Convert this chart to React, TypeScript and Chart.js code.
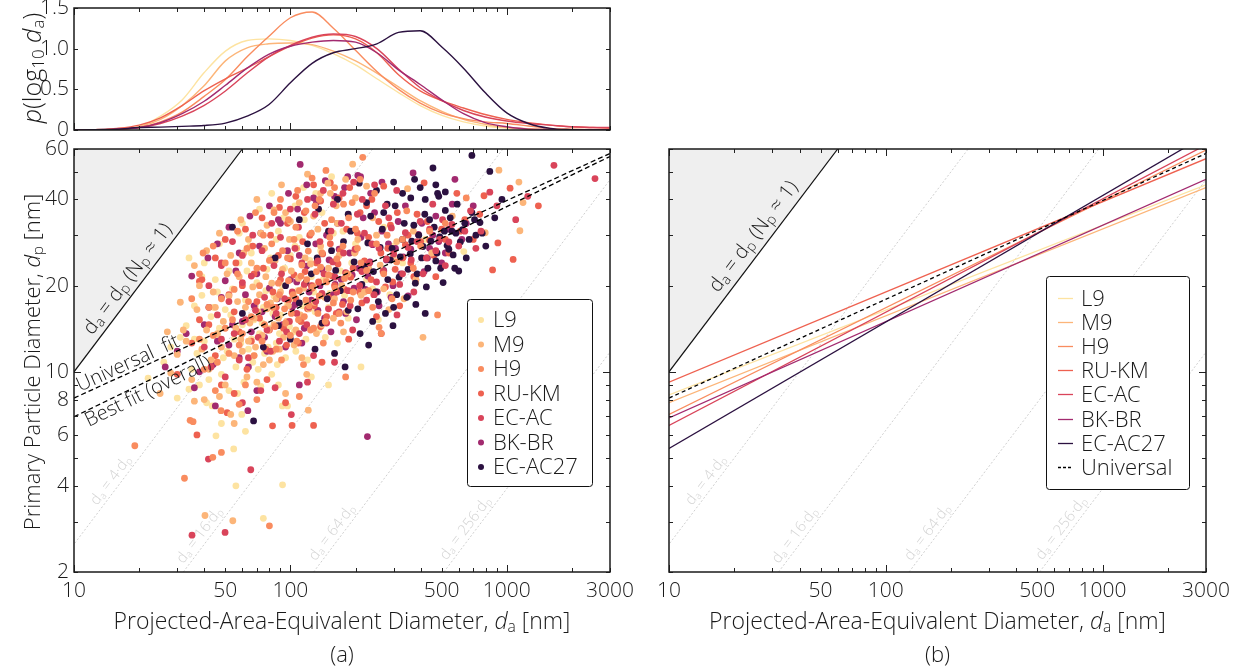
import React, { useEffect, useRef } from 'react';
import { Chart, registerables } from 'chart.js';
Chart.register(...registerables);

const FONT = '"Open Sans", Lato, "DejaVu Sans", sans-serif';
const W = '300';
const TXT = '#1a1a1a';

const SERIES = ['L9', 'M9', 'H9', 'RU-KM', 'EC-AC', 'BK-BR', 'EC-AC27'];
const COLORS = ['#fde3a1', '#fcb579', '#f98c5f', '#ee6150', '#d9445a', '#a22a6f', '#2b1140'];

// ---- density of log10(da) (top panel) ----
const PDF_DA = [10, 12.6, 15.8, 20, 25.1, 31.6, 39.8, 50.1, 63.1, 79.4, 100, 126, 158, 200, 251, 316, 398, 501, 631, 794, 1000, 1259, 1585, 1995, 2512, 3000];
const PDF_L9 = [0, 0.002, 0.01, 0.04, 0.17, 0.37, 0.7, 0.97, 1.1, 1.12, 1.1, 1.04, 0.94, 0.8, 0.63, 0.46, 0.3, 0.18, 0.1, 0.05, 0.025, 0.01, 0.005, 0, 0, 0];
const PDF_M9 = [0, 0.003, 0.01, 0.04, 0.13, 0.3, 0.54, 0.85, 1.01, 1.06, 1.07, 1.05, 0.97, 0.85, 0.7, 0.53, 0.36, 0.23, 0.13, 0.07, 0.03, 0.015, 0.005, 0, 0, 0];
const PDF_H9 = [0, 0.002, 0.008, 0.03, 0.1, 0.22, 0.41, 0.62, 0.9, 1.15, 1.38, 1.45, 1.25, 0.98, 0.72, 0.5, 0.33, 0.21, 0.14, 0.1, 0.08, 0.05, 0.02, 0.01, 0.005, 0];
const PDF_RUKM = [0, 0.005, 0.02, 0.06, 0.15, 0.3, 0.48, 0.63, 0.76, 0.9, 1.03, 1.13, 1.17, 1.12, 0.95, 0.68, 0.48, 0.36, 0.27, 0.19, 0.13, 0.09, 0.06, 0.04, 0.03, 0.02];
const PDF_ECAC = [0, 0.003, 0.01, 0.03, 0.08, 0.17, 0.3, 0.48, 0.7, 0.9, 1.04, 1.14, 1.18, 1.15, 1.0, 0.75, 0.52, 0.36, 0.24, 0.16, 0.11, 0.08, 0.06, 0.04, 0.03, 0.03];
const PDF_BKBR = [0, 0.003, 0.01, 0.03, 0.09, 0.2, 0.35, 0.55, 0.76, 0.93, 1.03, 1.08, 1.1, 1.08, 0.95, 0.74, 0.56, 0.37, 0.2, 0.09, 0.04, 0.01, 0.005, 0, 0, 0];
const PDF_ECAC27 = [0, 0.005, 0.01, 0.03, 0.035, 0.045, 0.055, 0.085, 0.17, 0.31, 0.58, 0.82, 0.95, 1.0, 1.06, 1.2, 1.22, 1.02, 0.76, 0.46, 0.21, 0.08, 0.02, 0.005, 0, 0];
const PDFS = [PDF_L9, PDF_M9, PDF_H9, PDF_RUKM, PDF_ECAC, PDF_BKBR, PDF_ECAC27];

// ---- scatter points [da, dp] ----
const PTS_L9 = [[22,9.5],[28,12.2],[30,8.1],[33,14.5],[35,10.2],[36,17.0],[38,9.0],[40,12.8],[41,7.8],[43,15.6],[43.5,7.6],[44,11.0],[45,21.0],[45.3,5.98],[46,13.4],[48,9.8],[50,16.5],[51,11.8],[52,8.6],[54,19.5],[54.7,5.38],[55,13.0],[56,4.0],[56,10.4],[58,24.0],[59.6,7.1],[60,14.6],[61,9.2],[62,17.8],[64,12.0],[65,27.5],[67,10.8],[68,15.2],[70,20.5],[72,13.6],[73,8.9],[75,3.08],[75,16.8],[76,11.6],[78,22.8],[80,14.2],[82,9.8],[84,18.4],[86,12.6],[88,31.0],[90,15.8],[91.8,7.6],[92,4.03],[92,20.0],[95,11.2],[97,7.6],[97,17.2],[100,25.5],[104,13.8],[108,19.2],[112,15.0],[116,34.0],[120,11.0],[125,21.5],[130,16.2],[138,26.5],[145,13.2],[152,18.8],[160,40.0],[170,22.5],[185,15.4],[200,28.0],[212,10.4],[240,19.5],[270,32.0],[288,18.6],[330,24.0],[420,29.0],[633,26.3],
  [26,10.8],[31,13.2],[34,8.7],[37,11.6],[39,18.5],[42,9.4],[47,14.2],[49,11.2],[53,15.8],[57,8.4],[59,12.6],[63,22.5],[66,13.0],[69,17.0],[71,10.2],[74,14.8],[77,19.2],[79,12.2],[81,25.0],[83,16.0],[87,10.6],[89,13.6],[94,23.0],[99,14.4],[102,18.0],[106,11.8],[110,29.5],[114,17.0],[118,13.0],[123,24.5],[128,19.0],[135,14.0],[142,21.0],[150,16.8],[158,30.5],[165,12.6],[178,18.5],[192,24.0],[225,21.0],[255,15.2],[300,27.5],[380,20.5],[150,9.0],[62,6.2],[48,6.6],
  [40,24.0],[47,28.0],[52,22.5],[60,33.0],[66,26.0],[72,37.0],[82,42.0],[86,29.0],[93,34.5],[105,27.5],[115,44.0],[131,42.0],[140,36.0],[155,48.0],[175,31.0],[105,38.0],[46,19.0],[39,21.5],[34,25.0],[58,30.5],[68,11.4],[88,9.0],[125,9.6],[36,13.0],[44,16.8]];
const PTS_M9 = [[25,8.4],[30,11.5],[32,14.0],[35,9.4],[37,16.5],[39,12.0],[40.3,3.15],[42,10.2],[44,19.0],[46,13.6],[47,8.2],[49,15.0],[51,22.0],[53,7.1],[54.2,3.02],[55,11.4],[57,17.6],[59,13.0],[61,26.0],[63,9.6],[65,14.8],[67,19.8],[69,12.2],[71,16.2],[73,30.5],[75,10.6],[77,21.5],[79,14.0],[81,17.4],[83,11.8],[85,24.5],[88,15.4],[90,19.0],[93,13.2],[95,36.0],[98,17.0],[101,22.5],[104,12.4],[107,27.0],[111,15.8],[115,19.6],[119,9.8],[121,7.35],[124,23.8],[129,17.5],[134,31.5],[140,14.6],[146,20.8],[153,42.0],[160,18.0],[168,25.5],[176,13.8],[185,22.0],[194,53.1],[205,29.0],[220,19.0],[240,34.5],[260,23.6],[285,16.5],[310,28.5],[348,43.6],[380,21.0],[410,13.2],[795,30.6],[920,50.6],[1138,46.0],[1189,39.0],[1150,31.1],
  [28,9.9],[33,12.8],[36,7.9],[38,20.0],[41,14.0],[43,11.0],[45,16.8],[48,12.2],[50,9.0],[52,18.4],[56,14.2],[58,21.5],[60,11.8],[62,16.8],[64,12.8],[66,24.0],[68,15.4],[70,9.2],[72,18.6],[74,13.4],[76,27.0],[78,16.6],[80,11.0],[82,20.4],[84,14.6],[86,18.0],[89,12.0],[92,22.8],[96,15.0],[99,29.0],[102,18.8],[106,14.0],[109,21.2],[113,11.2],[117,25.0],[122,16.6],[127,20.0],[132,13.6],[138,27.5],[144,18.2],[150,23.0],[158,15.4],[165,33.0],[173,20.0],[182,16.2],[198,26.0],[212,18.5],[230,23.0],[250,30.0],[270,19.5],[300,25.5],[335,18.0],[370,31.0],[450,26.0],[560,35.0],
  [36,23.5],[41,26.5],[47,30.5],[53,25.5],[59,34.0],[64,29.0],[70,40.0],[78,32.5],[84,36.8],[91,45.0],[100,33.5],[110,39.0],[120,49.0],[128,35.0],[138,42.0],[149,45.6],[163,38.0],[180,47.0],[200,40.5],[225,44.5],[31,17.5],[27,13.8],[40,8.0],[55,6.6],[95,8.4]];
const PTS_H9 = [[19.1,5.52],[32.4,4.25],[34.4,6.77],[35.5,6.7],[43.8,5.03],[48,5.23],[47.8,7.32],[80,2.9],[38,13.0],[42,16.8],[46,10.8],[50,14.2],[55,19.4],[58,12.4],[62,9.0],[66,15.6],[70,23.0],[74,12.8],[78,17.2],[82,28.0],[85,14.4],[88,20.4],[91,11.0],[94,16.6],[97,25.0],[100,13.4],[103,18.6],[106,32.0],[109,15.2],[112,21.6],[115,10.6],[118,17.8],[121,26.4],[124,14.0],[127,19.8],[130,38.0],[134,16.0],[138,23.2],[142,12.6],[147,20.6],[152,29.5],[158,17.4],[164,24.8],[171,14.8],[178,21.2],[186,34.5],[195,19.0],[204,27.0],[216,56.1],[225,22.6],[240,16.8],[257,14.3],[263,13.6],[280,30.0],[310,24.2],[345,36.5],[400,27.5],[479,15.8],[520,33.0],[650,40.5],
  [40,10.2],[44,13.4],[48,18.0],[52,11.6],[54,15.2],[57,22.0],[60,13.6],[64,17.6],[68,11.4],[72,20.0],[76,14.6],[80,24.5],[83,16.8],[86,12.0],[89,18.6],[92,26.5],[95,14.8],[98,20.8],[101,16.0],[104,29.0],[107,12.8],[110,19.2],[113,23.6],[116,15.6],[119,21.0],[122,17.0],[125,30.5],[128,14.2],[132,22.4],[136,18.4],[140,26.0],[145,15.0],[150,21.8],[155,34.0],[161,19.6],[168,16.0],[175,27.5],[182,22.0],[190,17.8],[200,31.5],[212,24.0],[230,19.2],[250,28.0],[270,22.0],[295,18.0],[330,29.0],[370,23.0],[440,31.0],[180,9.6],[110,8.2],
  [38,22.0],[44,27.5],[50,24.0],[57,31.0],[63,27.0],[69,36.0],[75,30.0],[84,36.0],[90,40.0],[98,34.0],[108,43.0],[118,36.5],[126,47.5],[136,40.0],[146,50.5],[160,44.0],[176,38.5],[193,39.0],[210,47.0],[245,42.0],[35,18.0],[45,8.6],[58,7.7],[70,8.0],[39.5,26.0]];
const PTS_RUKM = [[30,9.8],[37,6.02],[38,15.2],[45,11.4],[51,7.2],[52,18.6],[58,13.8],[63,10.2],[68,22.0],[72,15.4],[77,12.0],[82.7,6.48],[83,19.0],[88,25.5],[93,14.2],[98,17.8],[101.8,6.5],[104,21.8],[109,12.6],[114,28.5],[120,16.6],[126,19.6],[128,6.5],[132,24.0],[138,14.4],[144,33.0],[150,18.2],[156,21.6],[163,16.0],[170,26.5],[178,19.4],[186,13.0],[195,23.0],[204,30.5],[214,17.4],[225,38.0],[236,21.0],[250,15.6],[262,26.0],[275,19.8],[290,32.5],[305,22.8],[320,17.0],[340,27.8],[360,24.0],[385,35.5],[415,45.7],[440,28.8],[470,21.5],[500,31.5],[540,26.0],[588,42.0],[640,34.0],[700,29.0],[785,41.2],[860,22.7],[910,28.2],[1036,43.8],[1070,24.7],
  [35,12.6],[42,14.6],[48,9.0],[55,16.2],[60,20.0],[66,12.8],[70,17.6],[75,23.0],[80,14.0],[86,16.8],[90,21.0],[96,12.4],[100,24.8],[106,18.0],[112,15.0],[117,22.4],[123,30.0],[129,17.0],[135,20.6],[141,25.8],[147,15.6],[153,28.0],[160,20.0],[166,23.8],[174,17.2],[182,31.5],[190,21.4],[199,26.2],[209,19.0],[220,24.4],[230,29.5],[243,18.6],[256,33.5],[268,22.4],[282,27.0],[297,20.6],[312,36.0],[330,25.0],[350,30.0],[372,21.5],[400,28.5],[430,33.5],[460,25.5],[520,29.0],[610,31.0],[750,35.5],[1400,38.0],
  [39,21.0],[45,25.0],[50,29.0],[56,24.0],[62,31.5],[67,27.5],[74,34.5],[81,30.0],[89,37.5],[97,33.0],[106,41.0],[116,36.0],[128,45.0],[138,39.5],[153,45.7],[168,40.5],[188,44.0],[210,36.0],[238,40.0],[270,44.5],[38,20.7],[55,8.4],[78,9.4],[140,10.8],[95,7.8]];
const PTS_ECAC = [[35.1,2.69],[49.9,2.75],[41.8,4.96],[65.6,4.55],[101,7.09],[40,12.2],[46,15.8],[50,9.6],[55,13.6],[60,20.5],[64,11.2],[69,16.4],[73,8.6],[78,14.0],[84,23.5],[89,12.8],[94,18.0],[99,15.0],[105,27.0],[110,13.6],[116,20.2],[122,16.8],[128,11.4],[134,24.4],[140,18.8],[147,14.8],[154,31.0],[161,21.4],[168,16.2],[176,26.0],[185,19.2],[194,14.0],[204,35.5],[214,22.4],[225,17.8],[238,28.0],[250,20.6],[263,13.6],[278,24.8],[293,31.8],[311,15.8],[330,22.0],[350,27.2],[372,19.0],[398,33.5],[425,25.0],[455,38.5],[490,29.0],[520,23.5],[558,32.7],[600,27.5],[680,36.5],[760,31.0],[835,42.4],[1250,41.0],[1652,52.6],[2557,47.3],
  [43,10.4],[48,13.0],[52,17.6],[58,11.0],[62,15.2],[66,21.6],[71,13.2],[76,18.2],[81,11.8],[86,16.0],[91,22.0],[96,13.8],[102,19.0],[107,16.0],[113,24.0],[119,14.6],[125,20.0],[131,17.6],[137,28.5],[143,22.0],[150,16.6],[157,24.2],[164,19.0],[172,33.0],[180,22.2],[189,17.0],[199,26.8],[209,20.0],[220,30.5],[232,24.0],[244,18.6],[257,27.0],[270,22.4],[285,34.5],[300,25.8],[320,20.2],[340,30.6],[362,24.6],[385,28.5],[410,22.0],[440,31.5],[470,26.5],[505,34.0],[540,28.4],[640,31.0],[720,27.0],[900,38.0],[1100,34.0],
  [42,20.0],[48,24.0],[54,28.5],[60,25.5],[67,30.0],[74,26.5],[82,33.0],[90,29.5],[100,37.0],[109,32.0],[120,40.0],[130,35.5],[142,43.0],[158,38.5],[175,42.0],[196,46.0],[215,40.0],[245,45.0],[275,38.0],[310,43.0],[48,23.5],[60,7.8],[85,8.8],[120,9.2],[160,10.8]];
const PTS_BKBR = [[227,5.94],[63.6,7.32],[30,11.8],[36,8.8],[40,14.6],[44,10.6],[48,18.2],[52,12.4],[56,22.5],[60,15.0],[64,10.4],[68,17.0],[72,27.5],[76,13.2],[80,19.6],[85,15.6],[90,33.0],[95,12.2],[100,21.0],[105,17.2],[110,25.5],[116,14.2],[122,19.0],[128,40.5],[134,16.4],[140,22.8],[147,30.0],[154,13.8],[161,20.2],[168,26.8],[176,17.6],[184,48.0],[193,21.8],[202,15.2],[212,29.5],[222,19.4],[233,24.2],[245,36.0],[257,17.0],[270,22.6],[284,28.0],[298,20.0],[315,33.5],[332,25.2],[350,18.4],[369,49.5],[390,30.2],[415,22.4],[440,27.0],[470,35.0],[500,24.0],[540,31.5],[576,47.0],[620,29.0],[700,38.0],
  [33,13.6],[38,10.0],[42,16.8],[46,12.8],[50,20.8],[54,14.6],[58,11.2],[62,18.6],[66,13.8],[70,22.0],[74,16.2],[78,11.8],[82,24.6],[87,18.0],[92,14.6],[97,26.5],[102,16.8],[107,20.6],[113,12.6],[119,23.4],[125,17.8],[131,28.0],[137,20.0],[144,15.4],[151,24.6],[158,18.6],[165,33.0],[172,21.0],[180,16.0],[188,26.0],[197,19.6],[207,23.0],[217,34.5],[228,21.6],[240,27.8],[252,19.0],[265,31.0],[278,24.6],[292,18.2],[306,27.0],[324,22.0],[340,38.0],[360,26.8],[380,21.0],[405,33.0],[430,25.0],[455,30.0],[485,28.5],[520,26.0],[560,38.5],[650,33.0],
  [41.6,25.0],[46,28.0],[52,32.0],[58,26.0],[65,35.0],[73,30.5],[80,38.0],[88,34.0],[98,42.0],[108,37.0],[111,53.0],[119,45.0],[132,39.0],[145,46.5],[160,41.0],[178,44.0],[205,48.5],[211,48.0],[235,42.0],[265,46.0],[26.4,10.4],[35,21.6],[45,7.6],[70,8.6],[110,9.0]];
const PTS_ECAC27 = [[67.6,6.74],[54,32.0],[88,14.5],[95,20.0],[110,17.4],[125,22.0],[140,14.8],[155,26.5],[170,19.2],[179,10.4],[190,31.0],[205,16.6],[210,13.6],[220,23.4],[235,35.0],[248,19.0],[260,27.2],[275,16.0],[290,24.6],[298,14.5],[305,38.0],[318,21.4],[330,29.0],[345,18.2],[358,25.8],[372,32.5],[385,22.0],[398,44.0],[410,27.4],[425,19.8],[440,34.0],[456,51.5],[470,24.4],[479,42.0],[485,41.0],[490,29.6],[508,20.5],[520,36.6],[540,26.8],[558,31.0],[575,23.0],[590,38.5],[610,28.4],[625,31.4],[650,25.0],[690,36.0],[690,57.0],[720,30.0],[752,33.2],[800,27.5],[835,50.1],[880,34.5],[950,40.0],
  [100,13.0],[118,20.5],[133,25.0],[148,18.0],[162,22.6],[176,28.5],[185,16.4],[197,24.2],[214,20.2],[228,28.2],[242,22.4],[255,17.6],[266,31.5],[282,21.0],[295,27.0],[310,18.6],[322,25.2],[336,33.0],[350,22.8],[364,28.6],[378,20.4],[392,30.0],[404,25.0],[418,35.5],[432,23.0],[446,28.6],[462,32.0],[476,26.0],[495,23.0],[515,31.0],[530,27.6],[548,34.5],[565,25.6],[582,30.5],[600,22.5],[640,33.0],[670,29.0],[710,34.0],[770,30.5],[420,16.0],[360,40.5],[270,36.0],[230,12.4],
  [110,34.0],[120,28.0],[135,37.0],[150,31.0],[165,40.0],[185,35.5],[208,45.6],[225,39.0],[250,43.0],[280,38.5],[300,46.0],[330,42.0],[375,47.0],[420,40.0],[470,45.0],[520,42.5],[60,16.0],[75,12.2],[85,25.0],[130,12.0],[160,11.6],[240,15.0],[300,16.8],[380,17.2]];
const POINTS = [PTS_L9, PTS_M9, PTS_H9, PTS_RUKM, PTS_ECAC, PTS_BKBR, PTS_ECAC27];

// ---- power-law fits: dp at da = 10 and da = 3000 ----
const FIT_DA = [10, 3000];
const FIT_L9 = [8.3, 45.0];
const FIT_M9 = [7.8, 44.0];
const FIT_H9 = [7.1, 59.5];
const FIT_RUKM = [9.2, 55.5];
const FIT_ECAC = [6.5, 62.0];
const FIT_BKBR = [6.9, 47.0];
const FIT_ECAC27 = [5.4, 67.0];
const FIT_UNIVERSAL = [8.1, 57.9];
const FIT_BEST = [6.97, 56.5];
const FITS = [FIT_L9, FIT_M9, FIT_H9, FIT_RUKM, FIT_ECAC, FIT_BKBR, FIT_ECAC27];

// guide lines da = k * dp
const GUIDE_K = [4, 16, 64, 256];
const GUIDE_LABEL_DP = [4.0, 2.57, 2.63, 2.72];

// ticks
const X_TICKS = [10, 20, 30, 40, 50, 60, 70, 80, 90, 100, 200, 300, 400, 500, 600, 700, 800, 900, 1000, 2000, 3000];
const X_MAJOR = [10, 100, 1000];
const X_LABELS = [10, 50, 100, 500, 1000, 3000];
const Y_TICKS = [2, 3, 4, 5, 6, 7, 8, 9, 10, 20, 30, 40, 50, 60];
const Y_MAJOR = [10];
const Y_LABELS = [2, 4, 6, 8, 10, 20, 40, 60];
const P_TICKS = [0, 0.5, 1, 1.5];

function parseRich(s: string) {
  const parts: { t: string; sub: boolean }[] = [];
  let i = 0;
  let buf = '';
  while (i < s.length) {
    if (s[i] === '_' && s[i + 1] === '{') {
      if (buf) { parts.push({ t: buf, sub: false }); buf = ''; }
      const j = s.indexOf('}', i);
      parts.push({ t: s.slice(i + 2, j), sub: true });
      i = j + 1;
    } else { buf += s[i]; i++; }
  }
  if (buf) parts.push({ t: buf, sub: false });
  return parts;
}

function drawRich(ctx: CanvasRenderingContext2D, s: string, x: number, y: number, ang: number, size: number, color: string) {
  const parts = parseRich(s);
  const fm = `${W} ${size}px ${FONT}`;
  const fs = `${W} ${Math.round(size * 0.68)}px ${FONT}`;
  let w = 0;
  for (const p of parts) { ctx.font = p.sub ? fs : fm; w += ctx.measureText(p.t).width; }
  ctx.save();
  ctx.translate(x, y);
  ctx.rotate(ang);
  ctx.fillStyle = color;
  ctx.textBaseline = 'middle';
  ctx.textAlign = 'left';
  let cx = -w / 2;
  for (const p of parts) {
    ctx.font = p.sub ? fs : fm;
    ctx.fillText(p.t, cx, p.sub ? size * 0.22 : 0);
    cx += ctx.measureText(p.t).width;
  }
  ctx.restore();
}

function labelOnLine(chart: any, a: number[], b: number[], anchor: number[], off: number, text: string, size: number, color: string) {
  const sx = chart.scales.x, sy = chart.scales.y;
  const x1 = sx.getPixelForValue(a[0]), y1 = sy.getPixelForValue(a[1]);
  const x2 = sx.getPixelForValue(b[0]), y2 = sy.getPixelForValue(b[1]);
  const ang = Math.atan2(y2 - y1, x2 - x1);
  const px = sx.getPixelForValue(anchor[0]), py = sy.getPixelForValue(anchor[1]);
  const nx = Math.sin(ang), ny = -Math.cos(ang);
  drawRich(chart.ctx, text, px + off * nx, py + off * ny, ang, size, color);
}

function fitAt(fit: number[], da: number) {
  const t = Math.log(da / FIT_DA[0]) / Math.log(FIT_DA[1] / FIT_DA[0]);
  return fit[0] * Math.pow(fit[1] / fit[0], t);
}

function drawFrame(chart: any, xt: number[], xm: number[], yt: number[], ym: number[]) {
  const ctx = chart.ctx as CanvasRenderingContext2D;
  const { left, right, top, bottom } = chart.chartArea;
  const sx = chart.scales.x, sy = chart.scales.y;
  ctx.save();
  ctx.strokeStyle = '#222';
  ctx.lineWidth = 1;
  ctx.beginPath();
  for (const v of xt) {
    const p = Math.round(sx.getPixelForValue(v)) + 0.5;
    const L = xm.includes(v) ? 7 : 4;
    ctx.moveTo(p, bottom); ctx.lineTo(p, bottom - L);
    ctx.moveTo(p, top); ctx.lineTo(p, top + L);
  }
  for (const v of yt) {
    const p = Math.round(sy.getPixelForValue(v)) + 0.5;
    const L = ym.includes(v) ? 7 : 4;
    ctx.moveTo(left, p); ctx.lineTo(left + L, p);
    ctx.moveTo(right, p); ctx.lineTo(right - L, p);
  }
  ctx.stroke();
  ctx.lineWidth = 1.5;
  ctx.strokeStyle = '#1a1a1a';
  ctx.strokeRect(left, top, right - left, bottom - top);
  ctx.restore();
}

const tickFont = { family: FONT, size: 21, weight: W as any };

function xScale(showLabels: boolean) {
  return {
    type: 'logarithmic' as const,
    min: 10, max: 3000,
    display: true,
    afterBuildTicks: (s: any) => { s.ticks = X_TICKS.map((v) => ({ value: v })); },
    afterFit: (s: any) => { s.height = 95; s.paddingLeft = 0; s.paddingRight = 0; },
    ticks: {
      display: showLabels, autoSkip: false, maxRotation: 0, minRotation: 0, padding: 6,
      font: tickFont, color: TXT,
      callback: (v: any) => (X_LABELS.includes(Number(v)) ? String(v) : ''),
    },
    grid: { display: false, drawTicks: false },
    border: { display: false },
  };
}

function guideDatasets() {
  return GUIDE_K.map((k) => ({
    type: 'line' as const,
    data: [{ x: 2 * k, y: 2 }, { x: 60 * k, y: 60 }],
    borderColor: '#cfcfcf', borderWidth: 1, borderDash: [2, 2], pointRadius: 0, fill: false, order: 90,
  }));
}

function oneToOne() {
  return {
    type: 'line' as const,
    data: [{ x: 10, y: 10 }, { x: 60, y: 60 }],
    borderColor: '#111', borderWidth: 1.2, backgroundColor: '#efefef', fill: 'end', pointRadius: 0, order: 100,
  };
}

function commonDecor(chart: any, npOff: number, npDp: number) {
  GUIDE_K.forEach((k, i) => {
    labelOnLine(chart, [2 * k, 2], [60 * k, 60], [k * GUIDE_LABEL_DP[i], GUIDE_LABEL_DP[i]], 9,
      `d_{a} = ${k}·d_{p}`, 15, '#d4d4d4');
  });
  labelOnLine(chart, [10, 10], [60, 60], [npDp, npDp], npOff, 'd_{a} = d_{p} (N_{p} ≈ 1)', 20, TXT);
}

export default function App() {
  const topRef = useRef<HTMLCanvasElement>(null);
  const leftRef = useRef<HTMLCanvasElement>(null);
  const rightRef = useRef<HTMLCanvasElement>(null);

  useEffect(() => {
    const charts: Chart[] = [];
    const base = { responsive: false, devicePixelRatio: 1, animation: false as const, events: [] as any[] };

    // ---- top: density ----
    charts.push(new Chart(topRef.current!, {
      type: 'line',
      data: {
        datasets: SERIES.map((name, i) => ({
          label: name,
          data: PDF_DA.map((x, j) => ({ x, y: PDFS[i][j] })),
          borderColor: COLORS[i], borderWidth: 1.4, pointRadius: 0,
          cubicInterpolationMode: 'monotone' as const, fill: false, order: 6 - i,
        })),
      },
      options: {
        ...base,
        layout: { padding: { left: 0, top: 8, right: 30, bottom: 10 } },
        plugins: { legend: { display: false }, tooltip: { enabled: false } },
        scales: {
          x: { type: 'logarithmic', min: 10, max: 3000, display: false },
          y: {
            min: 0, max: 1.5,
            afterBuildTicks: (s: any) => { s.ticks = P_TICKS.map((v) => ({ value: v })); },
            afterFit: (s: any) => { s.width = 74; s.paddingTop = 0; s.paddingBottom = 0; },
            ticks: { font: tickFont, color: TXT, padding: 5, callback: (v: any) => (Number(v) === 0 ? '0' : Number(v).toFixed(1)) },
            grid: { display: false, drawTicks: false },
            border: { display: false },
          },
        },
      },
      plugins: [{
        id: 'deco',
        afterDatasetsDraw(chart: any) { drawFrame(chart, X_TICKS, X_MAJOR, [0, 0.5, 1, 1.5], []); },
      }],
    } as any));

    // ---- bottom-left: scatter ----
    charts.push(new Chart(leftRef.current!, {
      type: 'line',
      data: {
        datasets: [
          oneToOne(),
          ...guideDatasets(),
          ...SERIES.map((name, i) => ({
            type: 'scatter' as const,
            label: name,
            data: POINTS[i].map((p) => ({ x: p[0], y: p[1] })),
            backgroundColor: COLORS[i], pointBackgroundColor: COLORS[i], pointRadius: 3.4, pointBorderWidth: 0,
            borderWidth: 0, showLine: false, order: 20 - ((i * 3) % 7),
          })),
          {
            type: 'line' as const, label: 'Universal fit',
            data: FIT_DA.map((x, j) => ({ x, y: FIT_UNIVERSAL[j] })),
            borderColor: '#000', borderWidth: 1.3, borderDash: [5, 3], pointRadius: 0, fill: false, order: 0,
          },
          {
            type: 'line' as const, label: 'Best fit (overall)',
            data: FIT_DA.map((x, j) => ({ x, y: FIT_BEST[j] })),
            borderColor: '#000', borderWidth: 1.3, borderDash: [5, 3], pointRadius: 0, fill: false, order: 0,
          },
        ],
      },
      options: {
        ...base,
        layout: { padding: { left: 0, top: 9, right: 30, bottom: 0 } },
        plugins: { legend: { display: false }, tooltip: { enabled: false } },
        scales: {
          x: xScale(true),
          y: {
            type: 'logarithmic', min: 2, max: 60,
            afterBuildTicks: (s: any) => { s.ticks = Y_TICKS.map((v) => ({ value: v })); },
            afterFit: (s: any) => { s.width = 74; s.paddingTop = 0; s.paddingBottom = 0; },
            ticks: { font: tickFont, color: TXT, padding: 5, autoSkip: false, callback: (v: any) => (Y_LABELS.includes(Number(v)) ? String(v) : '') },
            grid: { display: false, drawTicks: false },
            border: { display: false },
          },
        },
      },
      plugins: [{
        id: 'deco',
        afterDatasetsDraw(chart: any) {
          const ctx = chart.ctx as CanvasRenderingContext2D;
          commonDecor(chart, 13, 19.8);
          labelOnLine(chart, [10, FIT_UNIVERSAL[0]], [3000, FIT_UNIVERSAL[1]], [18.5, fitAt(FIT_UNIVERSAL, 18.5)], 9, 'Universal  fit', 20, TXT);
          labelOnLine(chart, [10, FIT_BEST[0]], [3000, FIT_BEST[1]], [21, fitAt(FIT_BEST, 21)], -10, 'Best fit (overall)', 20, TXT);
          drawFrame(chart, X_TICKS, X_MAJOR, Y_TICKS, Y_MAJOR);
          // legend
          ctx.save();
          ctx.fillStyle = '#fff';
          ctx.strokeStyle = '#111';
          ctx.lineWidth = 1;
          ctx.beginPath();
          (ctx as any).roundRect(467.5, 159.5, 125, 187, 3);
          ctx.fill();
          ctx.stroke();
          ctx.font = `${W} 22px ${FONT}`;
          ctx.textBaseline = 'middle';
          SERIES.forEach((name, i) => {
            const y = 180 + i * 24.5;
            ctx.fillStyle = COLORS[i];
            ctx.beginPath(); ctx.arc(481, y, 3, 0, Math.PI * 2); ctx.fill();
            ctx.fillStyle = TXT;
            ctx.fillText(name, 493, y + 1);
          });
          ctx.restore();
        },
      }],
    } as any));

    // ---- bottom-right: fits ----
    charts.push(new Chart(rightRef.current!, {
      type: 'line',
      data: {
        datasets: [
          oneToOne(),
          ...guideDatasets(),
          ...SERIES.map((name, i) => ({
            type: 'line' as const, label: name,
            data: FIT_DA.map((x, j) => ({ x, y: FITS[i][j] })),
            borderColor: COLORS[i], borderWidth: 1.3, pointRadius: 0, fill: false, order: 10 - i,
          })),
          {
            type: 'line' as const, label: 'Universal',
            data: FIT_DA.map((x, j) => ({ x, y: FIT_UNIVERSAL[j] })),
            borderColor: '#000', borderWidth: 1.3, borderDash: [4, 3], pointRadius: 0, fill: false, order: 0,
          },
        ],
      },
      options: {
        ...base,
        layout: { padding: { left: 29, top: 9, right: 33, bottom: 0 } },
        plugins: { legend: { display: false }, tooltip: { enabled: false } },
        scales: {
          x: xScale(true),
          y: { type: 'logarithmic', min: 2, max: 60, display: false },
        },
      },
      plugins: [{
        id: 'deco',
        afterDatasetsDraw(chart: any) {
          const ctx = chart.ctx as CanvasRenderingContext2D;
          commonDecor(chart, 14, 27.7);
          drawFrame(chart, X_TICKS, X_MAJOR, Y_TICKS, Y_MAJOR);
          ctx.save();
          ctx.fillStyle = '#fff';
          ctx.strokeStyle = '#111';
          ctx.lineWidth = 1;
          ctx.beginPath();
          (ctx as any).roundRect(406.5, 136.5, 143, 213, 3);
          ctx.fill();
          ctx.stroke();
          ctx.font = `${W} 22px ${FONT}`;
          ctx.textBaseline = 'middle';
          const names = [...SERIES, 'Universal'];
          names.forEach((name, i) => {
            const y = Math.round(158 + i * 24.1) + 0.5;
            ctx.strokeStyle = i < 7 ? COLORS[i] : '#000';
            ctx.lineWidth = 1.3;
            ctx.setLineDash(i < 7 ? [] : [3, 2]);
            ctx.beginPath(); ctx.moveTo(418, y); ctx.lineTo(433, y); ctx.stroke();
            ctx.setLineDash([]);
            ctx.fillStyle = TXT;
            ctx.fillText(name, 441, y + 1);
          });
          ctx.restore();
        },
      }],
    } as any));

    return () => { charts.forEach((c) => c.destroy()); };
  }, []);

  const txt: React.CSSProperties = {
    position: 'absolute', fontFamily: FONT, fontWeight: W as any, fontSize: 23, color: TXT, whiteSpace: 'nowrap', lineHeight: 1,
    transform: 'translate(-50%,-50%)',
  };
  const rot: React.CSSProperties = { ...txt, transform: 'translate(-50%,-50%) rotate(-90deg)' };
  const sub: React.CSSProperties = { fontSize: '0.68em', verticalAlign: '-0.22em', lineHeight: 0 };

  return (
    <div style={{ position: 'absolute', left: 0, top: 0, width: 1239, height: 667, background: '#fff', overflow: 'hidden' }}>
      <canvas ref={topRef} width={640} height={140} style={{ position: 'absolute', left: 0, top: 0, width: 640, height: 140 }} />
      <canvas ref={leftRef} width={640} height={527} style={{ position: 'absolute', left: 0, top: 140, width: 640, height: 527 }} />
      <canvas ref={rightRef} width={599} height={527} style={{ position: 'absolute', left: 640, top: 140, width: 599, height: 527 }} />
      <div style={{ ...rot, left: 31, top: 68, fontSize: 25 }}>
        <i>p</i>(log<span style={sub}>10</span> <i>d</i><span style={sub}>a</span>)
      </div>
      <div style={{ ...rot, left: 31, top: 362, fontSize: 22 }}>
        Primary Particle Diameter, <i>d</i><span style={sub}>p</span> [nm]
      </div>
      <div style={{ ...txt, left: 342, top: 620 }}>
        Projected-Area-Equivalent Diameter, <i>d</i><span style={sub}>a</span> [nm]
      </div>
      <div style={{ ...txt, left: 937.5, top: 620 }}>
        Projected-Area-Equivalent Diameter, <i>d</i><span style={sub}>a</span> [nm]
      </div>
      <div style={{ ...txt, left: 342, top: 653, fontSize: 22 }}>(a)</div>
      <div style={{ ...txt, left: 937.5, top: 653, fontSize: 22 }}>(b)</div>
    </div>
  );
}
